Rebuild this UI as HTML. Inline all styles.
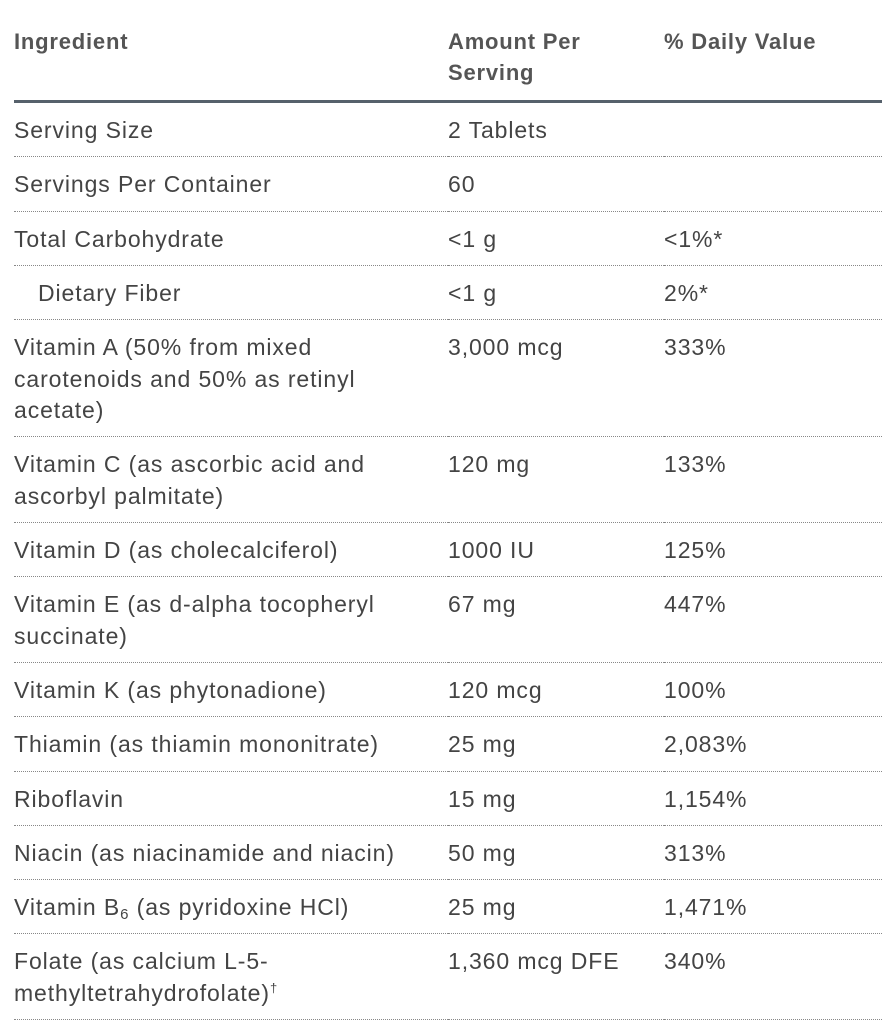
<!DOCTYPE html>
<html><head><meta charset="utf-8"><style>
body{margin:0;background:#fff;width:888px;height:1022px;overflow:hidden;font-family:"Liberation Sans",sans-serif;color:#444;}
table{position:absolute;left:14px;top:0;width:868px;border-collapse:collapse;table-layout:fixed;font-size:23px;line-height:31.5px;letter-spacing:0.9px;}
th{font-weight:bold;color:#555;text-align:left;vertical-align:top;padding:26px 0 12px 0;border-bottom:3px solid #56616b;line-height:31px;font-size:22px;letter-spacing:0.8px;}
td{vertical-align:top;padding:12px 0 9.75px 0;border-bottom:1px dotted #888;white-space:nowrap;}
.ind{padding-left:24px;}
sub{font-size:15px;vertical-align:-4px;line-height:0}
sup{font-size:13px;line-height:0}
</style></head><body>
<table>
<colgroup><col style="width:434px"><col style="width:216px"><col style="width:218px"></colgroup>
<tr><th>Ingredient</th><th>Amount Per<br>Serving</th><th>% Daily Value</th></tr>
<tr><td>Serving Size</td><td>2 Tablets</td><td></td></tr>
<tr><td>Servings Per Container</td><td>60</td><td></td></tr>
<tr><td>Total Carbohydrate</td><td>&lt;1 g</td><td>&lt;1%*</td></tr>
<tr><td class="ind">Dietary Fiber</td><td>&lt;1 g</td><td>2%*</td></tr>
<tr><td>Vitamin A (50% from mixed<br>carotenoids and 50% as retinyl<br>acetate)</td><td>3,000 mcg</td><td>333%</td></tr>
<tr><td>Vitamin C (as ascorbic acid and<br>ascorbyl palmitate)</td><td>120 mg</td><td>133%</td></tr>
<tr><td>Vitamin D (as cholecalciferol)</td><td>1000 IU</td><td>125%</td></tr>
<tr><td>Vitamin E (as d-alpha tocopheryl<br>succinate)</td><td>67 mg</td><td>447%</td></tr>
<tr><td>Vitamin K (as phytonadione)</td><td>120 mcg</td><td>100%</td></tr>
<tr><td>Thiamin (as thiamin mononitrate)</td><td>25 mg</td><td>2,083%</td></tr>
<tr><td>Riboflavin</td><td>15 mg</td><td>1,154%</td></tr>
<tr><td>Niacin (as niacinamide and niacin)</td><td>50 mg</td><td>313%</td></tr>
<tr><td>Vitamin B<sub>6</sub> (as pyridoxine HCl)</td><td>25 mg</td><td>1,471%</td></tr>
<tr><td>Folate (as calcium L-5-<br>methyltetrahydrofolate)<sup>†</sup></td><td>1,360 mcg DFE</td><td>340%</td></tr>
</table>
</body></html>
